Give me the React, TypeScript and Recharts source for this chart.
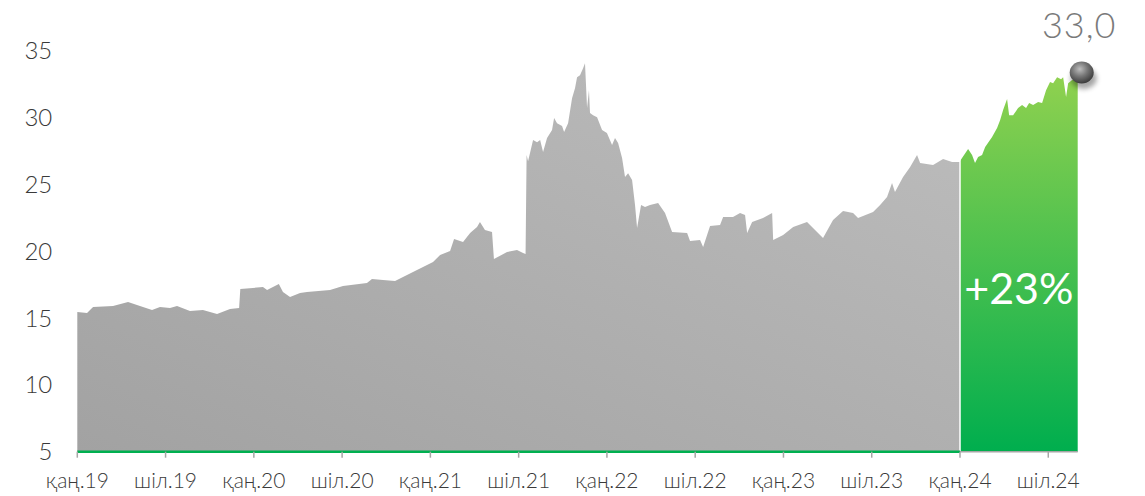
import React from 'react';
import { ComposedChart, Area, XAxis, YAxis, ReferenceLine, ReferenceDot } from 'recharts';

// months since Jan 2019
const grayMonths = [
  0, 0.66, 1.07, 2.43, 3.45, 4.26, 5.08, 5.62, 6.3, 6.78, 7.66, 8.54, 9.5, 10.38, 11.0, 11.08,
  12.62, 12.9, 13.7, 13.98, 14.46, 15.14, 15.61, 17.18, 18.06, 19.69, 20.03, 20.78, 21.6, 22.14,
  23.09, 23.5, 24.18, 24.66, 25.34, 25.61, 26.22, 26.7, 27.17, 27.37, 27.71, 28.19, 28.32, 29.21,
  29.89, 30.3, 30.47, 30.54, 30.64, 30.98, 31.25, 31.46, 31.66, 31.93, 32.27, 32.41, 32.61, 32.95,
  33.09, 33.36, 33.63, 33.83, 33.97, 34.17, 34.38, 34.51, 34.65, 34.78, 34.85, 35.06, 35.33, 35.67,
  36.0, 36.35, 36.55, 36.76, 37.03, 37.23, 37.44, 37.71, 37.91, 38.05, 38.32, 38.59, 38.93,
  39.48, 39.95, 40.43, 41.45, 41.65, 42.33, 42.54, 43.01, 43.69, 43.9, 44.57,
  45.05, 45.39, 45.53, 45.87, 46.61, 47.23, 47.3, 47.98, 48.66, 49.6, 50.01, 50.69, 51.37, 52.05,
  52.73, 53.07, 54.09, 54.57, 55.04, 55.38, 55.58, 56.13, 56.61, 57.08, 57.29, 58.17, 58.85, 59.46, 60,
];
const grayValues = [
  15.45, 15.37, 15.82, 15.9, 16.2, 15.9, 15.6, 15.82, 15.75, 15.9, 15.52, 15.6, 15.3, 15.67, 15.75, 17.17,
  17.32, 17.1, 17.54, 16.95, 16.57, 16.87, 16.95, 17.1, 17.4, 17.62, 17.92, 17.85, 17.77, 18.07,
  18.6, 18.81, 19.19, 19.71, 20.01, 20.91, 20.69, 21.36, 21.81, 22.18, 21.59, 21.44, 19.41, 19.94,
  20.09, 19.86, 19.79, 27.19, 26.73, 28.31, 28.16, 28.31, 27.42, 28.46, 29.06, 29.96, 29.58, 29.36,
  28.91, 29.58, 31.45, 32.2, 33.02, 33.17, 33.69, 34.07, 30.71, 32.05, 30.33, 30.18, 30.03, 29.06,
  28.84, 27.94, 28.46, 28.09, 26.97, 25.55, 25.84, 25.32, 23.45, 21.73, 23.45, 23.3, 23.45,
  23.6, 22.86, 21.44, 21.36, 20.76, 20.84, 20.31, 21.88, 21.96, 22.56, 22.56,
  22.86, 22.7, 21.36, 22.18, 22.48, 22.86, 20.84, 21.21, 21.81, 22.18, 21.73, 20.98, 22.33, 23.0,
  22.86, 22.48, 22.93, 23.45, 24.05, 25.1, 24.42, 25.55, 26.3, 27.19, 26.59, 26.44, 26.89, 26.67, 26.67,
];
const greenMonths = [
  60, 60.55, 60.82, 61.02, 61.23, 61.5, 61.71, 62.18, 62.52, 62.73, 62.93, 63.2, 63.34, 63.61,
  63.95, 64.22, 64.49, 64.7, 64.97, 65.31, 65.58, 65.85, 66.12, 66.33, 66.6, 66.87, 67.01, 67.21,
  67.35, 67.62, 68,
];
const greenValues = [
  26.75, 27.64, 27.19, 26.59, 27.04, 27.19, 27.79, 28.54, 29.21, 29.81, 30.56, 31.38, 30.18, 30.18,
  30.71, 30.93, 30.71, 31.08, 30.93, 31.16, 31.08, 32.05, 32.65, 32.57, 33.02, 32.87, 33.02, 31.53,
  32.57, 32.8, 33.0,
];

const xTickMonths = [0, 6, 12, 18, 24, 30, 36, 42, 48, 54, 60, 66];
const xTickLabels = ['қаң.19', 'шіл.19', 'қаң.20', 'шіл.20', 'қаң.21', 'шіл.21', 'қаң.22', 'шіл.22', 'қаң.23', 'шіл.23', 'қаң.24', 'шіл.24'];
const yTicks = [5, 10, 15, 20, 25, 30, 35];

const lastMonth = 68;
const lastValue = 33.0;
const lastLabel = '33,0';
const splitMonth = 60;
const growthLabel = '+23%';
const growthAnchor = { m: 64, v: 16.05 };

const data = [
  ...grayMonths.map((m, i) => ({ m, gray: grayValues[i] })),
  ...greenMonths.map((m, i) => ({ m, green: greenValues[i] })),
];

const FONT = 'Lato, "Noto Sans", sans-serif';

const Ball = (props: any) => {
  const { cx, cy } = props;
  if (cx == null || cy == null) return null;
  return (
    <g>
      <ellipse cx={cx + 6} cy={cy + 1} rx={13} ry={10.5} fill="#000" opacity={0.35} filter="url(#ballBlur)" />
      <ellipse cx={cx + 4} cy={cy - 5} rx={12} ry={11} fill="url(#ballGrad)" />
      <text x={cx + 1.5} y={cy - 39} textAnchor="middle" fontSize={36} letterSpacing={1} fontFamily={FONT} fontWeight={300} fill="#7a7a7a">
        {lastLabel}
      </text>
    </g>
  );
};

const GrowthText = (props: any) => {
  const { cx, cy } = props;
  if (cx == null || cy == null) return null;
  return (
    <text x={cx} y={cy} textAnchor="middle" fontSize={43} fontFamily={FONT} fontWeight={400} fill="#ffffff">
      {growthLabel}
    </text>
  );
};

export default function App() {
  return (
    <div style={{ position: 'absolute', left: 0, top: 0, width: 1145, height: 496, background: '#fff' }}>
      <ComposedChart width={1145} height={496} data={data} margin={{ top: 50.7, right: 67.3, left: 0, bottom: 14.3 }}>
        <defs>
          <linearGradient id="grayGrad" x1="0" y1="1" x2="1" y2="0">
            <stop offset="0%" stopColor="#a2a2a2" />
            <stop offset="100%" stopColor="#bdbdbd" />
          </linearGradient>
          <linearGradient id="greenGrad" x1="0" y1="0" x2="0" y2="1">
            <stop offset="0%" stopColor="#8fd14f" />
            <stop offset="100%" stopColor="#00ae4e" />
          </linearGradient>
          <radialGradient id="ballGrad" cx="0.42" cy="0.35" r="0.65">
            <stop offset="0%" stopColor="#bdbdbd" />
            <stop offset="50%" stopColor="#777777" />
            <stop offset="100%" stopColor="#3c3c3c" />
          </radialGradient>
          <filter id="ballBlur" x="-50%" y="-50%" width="200%" height="200%">
            <feGaussianBlur stdDeviation="2.5" />
          </filter>
        </defs>
        <XAxis
          dataKey="m"
          type="number"
          domain={[0, lastMonth]}
          ticks={xTickMonths}
          interval={0}
          tickFormatter={(v: number) => xTickLabels[xTickMonths.indexOf(v)] ?? ''}
          height={30}
          tickSize={6}
          tickMargin={15}
          axisLine={false}
          tickLine={{ stroke: '#a6a6a6', strokeWidth: 1.5 }}
          tick={{ fontSize: 21, fontFamily: FONT, fontWeight: 300, fill: '#3a3a3a' }}
        />
        <YAxis
          type="number"
          domain={[5, 35]}
          ticks={yTicks}
          interval={0}
          width={77.3}
          axisLine={false}
          tickLine={false}
          tickSize={0}
          tickMargin={25}
          tick={{ fontSize: 24, fontFamily: FONT, fontWeight: 300, fill: '#3a3a3a' }}
        />
        <Area
          type="linear"
          dataKey="gray"
          stroke="none"
          fill="url(#grayGrad)"
          fillOpacity={1}
          dot={false}
          activeDot={false}
          isAnimationActive={false}
        />
        <Area
          type="linear"
          dataKey="green"
          stroke="none"
          fill="url(#greenGrad)"
          fillOpacity={1}
          dot={false}
          activeDot={false}
          isAnimationActive={false}
        />
        <ReferenceLine x={splitMonth} stroke="#ffffff" strokeWidth={1.5} />
        <ReferenceLine
          segment={[{ x: 0, y: 5 }, { x: splitMonth, y: 5 }]}
          stroke="#00b050"
          strokeWidth={2.5}
        />
        <ReferenceLine
          segment={[{ x: splitMonth, y: 5 }, { x: lastMonth, y: 5 }]}
          stroke="#a6a6a6"
          strokeWidth={1.5}
        />
        <ReferenceDot x={growthAnchor.m} y={growthAnchor.v} r={0} shape={GrowthText} />
        <ReferenceDot x={lastMonth} y={lastValue} r={12} shape={Ball} />
      </ComposedChart>
    </div>
  );
}
